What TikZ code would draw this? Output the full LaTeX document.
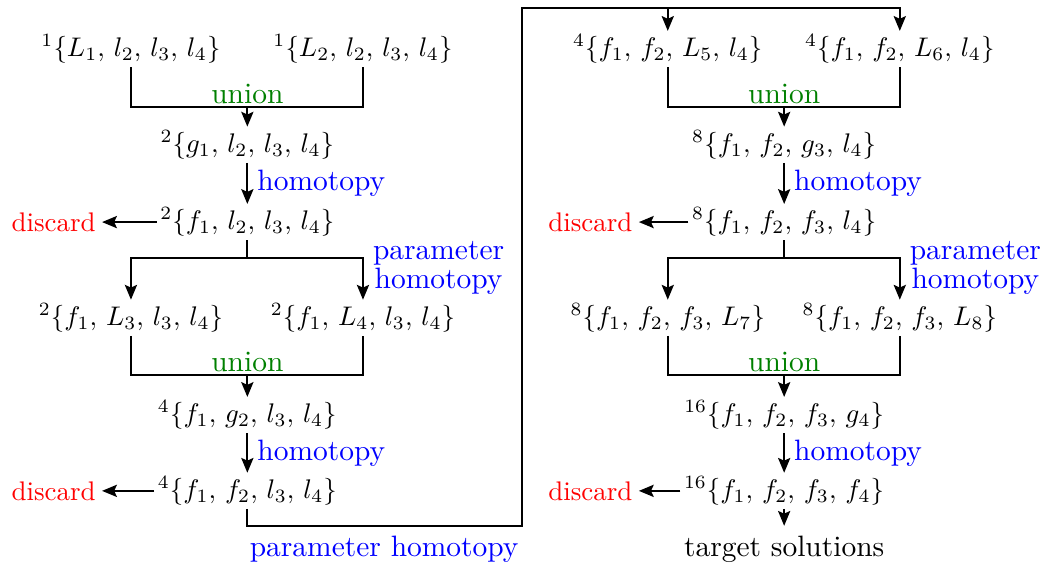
\documentclass[tikz,border=0pt]{standalone}
\usetikzlibrary{positioning,arrows.meta}
\definecolor{unionGreen}{rgb}{0,0.5,0}

\begin{document}
\begin{tikzpicture}[
  >={Stealth[length=5.5pt,width=4.5pt,inset=1pt]},
  line width=0.8pt,
  every node/.style={font=\fontsize{10.95}{13.6}\selectfont},
  sys/.style={inner sep=1pt, font=\normalsize},
  unionlbl/.style={above, inner sep=1pt, text=unionGreen},
  homlbl/.style={text=blue},
  droplbl/.style={text=red, inner sep=2pt, font=\normalsize},
]

% --- PARAMETERS ---
\def\xL{1.71}     % left branch
\def\xM{3.23}     % trunk
\def\xR{4.74}     % right branch
\def\xD{0.70}     % discard
\def\offX{7.01}   % shift of the second half
\def\yA{6.74}     % start systems
\def\yB{5.49}     % after union
\def\yC{4.48}     % after homotopy
\def\yD{3.23}     % split systems
\def\yE{1.96}
\def\yF{0.97}
\def\yU{5.98}     % upper union bracket
\def\yP{4.01}     % split bracket
\def\yV{2.48}     % lower union bracket

\useasboundingbox (0,0) rectangle (13.62,7.38);

% --- FIRST HALF ---
\node[sys] (a1) at (\xL,\yA) {$^{1}\{L_1,\, l_2,\, l_3,\, l_4\}$};
\node[sys] (b1) at (\xR,\yA) {$^{1}\{L_2,\, l_2,\, l_3,\, l_4\}$};
\node[sys] (g1) at (\xM,\yB) {$^{2}\{g_1,\, l_2,\, l_3,\, l_4\}$};
\node[sys] (f1) at (\xM,\yC) {$^{2}\{f_1,\, l_2,\, l_3,\, l_4\}$};
\node[sys] (a2) at (\xL,\yD) {$^{2}\{f_1,\, L_3,\, l_3,\, l_4\}$};
\node[sys] (b2) at (\xR,\yD) {$^{2}\{f_1,\, L_4,\, l_3,\, l_4\}$};
\node[sys] (g2) at (\xM,\yE) {$^{4}\{f_1,\, g_2,\, l_3,\, l_4\}$};
\node[sys] (f2) at (\xM,\yF) {$^{4}\{f_1,\, f_2,\, l_3,\, l_4\}$};
\node[droplbl] (d1) at (\xD,\yC) {discard};
\node[droplbl] (d2) at (\xD,\yF) {discard};

% --- SECOND HALF ---
\begin{scope}[xshift=\offX cm]
\node[sys] (a3) at (\xL,\yA) {$^{4}\{f_1,\, f_2,\, L_5,\, l_4\}$};
\node[sys] (b3) at (\xR,\yA) {$^{4}\{f_1,\, f_2,\, L_6,\, l_4\}$};
\node[sys] (g3) at (\xM,\yB) {$^{8}\{f_1,\, f_2,\, g_3,\, l_4\}$};
\node[sys] (f3) at (\xM,\yC) {$^{8}\{f_1,\, f_2,\, f_3,\, l_4\}$};
\node[sys] (a4) at (\xL,\yD) {$^{8}\{f_1,\, f_2,\, f_3,\, L_7\}$};
\node[sys] (b4) at (\xR,\yD) {$^{8}\{f_1,\, f_2,\, f_3,\, L_8\}$};
\node[sys] (g4) at (\xM,\yE) {$^{16}\{f_1,\, f_2,\, f_3,\, g_4\}$};
\node[sys] (f4) at (\xM,\yF) {$^{16}\{f_1,\, f_2,\, f_3,\, f_4\}$};
\node[droplbl] (d3) at (\xD,\yC) {discard};
\node[droplbl] (d4) at (\xD,\yF) {discard};
\end{scope}
\node[below=0.22cm of f4] (target) {target solutions};

% --- UNION, HOMOTOPY, DISCARD ---
\foreach \n/\yu in {1/\yU, 2/\yV, 3/\yU, 4/\yV} {
  \coordinate (u\n) at (g\n |- 0,\yu);
  \draw (a\n) -- (a\n |- u\n) -| (b\n);
  \node[unionlbl] (un\n) at (u\n) {union};
  \draw[->] (u\n) -- (g\n);
  \draw[->] (g\n) -- node[homlbl, right] (h\n) {homotopy} (f\n);
  \draw[->] (f\n) -- (d\n);
}

% --- PARAMETER HOMOTOPY SPLITS ---
\foreach \n/\m in {1/2, 3/4} {
  \coordinate (p\n) at (f\n |- 0,\yP);
  \draw (f\n) -- (p\n);
  \draw[->] (p\n) -| (a\m);
  \draw[->] (p\n) -| (b\m);
  \node[homlbl, anchor=west, align=center] (ph\n) at ([yshift=-0.13cm]b\m |- p\n)
    {parameter\\[-2.6pt]homotopy};
}

% --- LOOP TO SECOND HALF ---
\coordinate (lb) at (6.82,0.51);
\coordinate (lt) at (6.82,7.28);
\draw[->] (f2) |- (lb) -- (lt) -| (b3);
\draw[->] (a3 |- lt) -- (a3);
\node[homlbl, anchor=north east, inner xsep=1pt] (ph0) at (lb) {parameter homotopy};
\draw[->] (f4) -- (target);

\end{tikzpicture}
\end{document}
